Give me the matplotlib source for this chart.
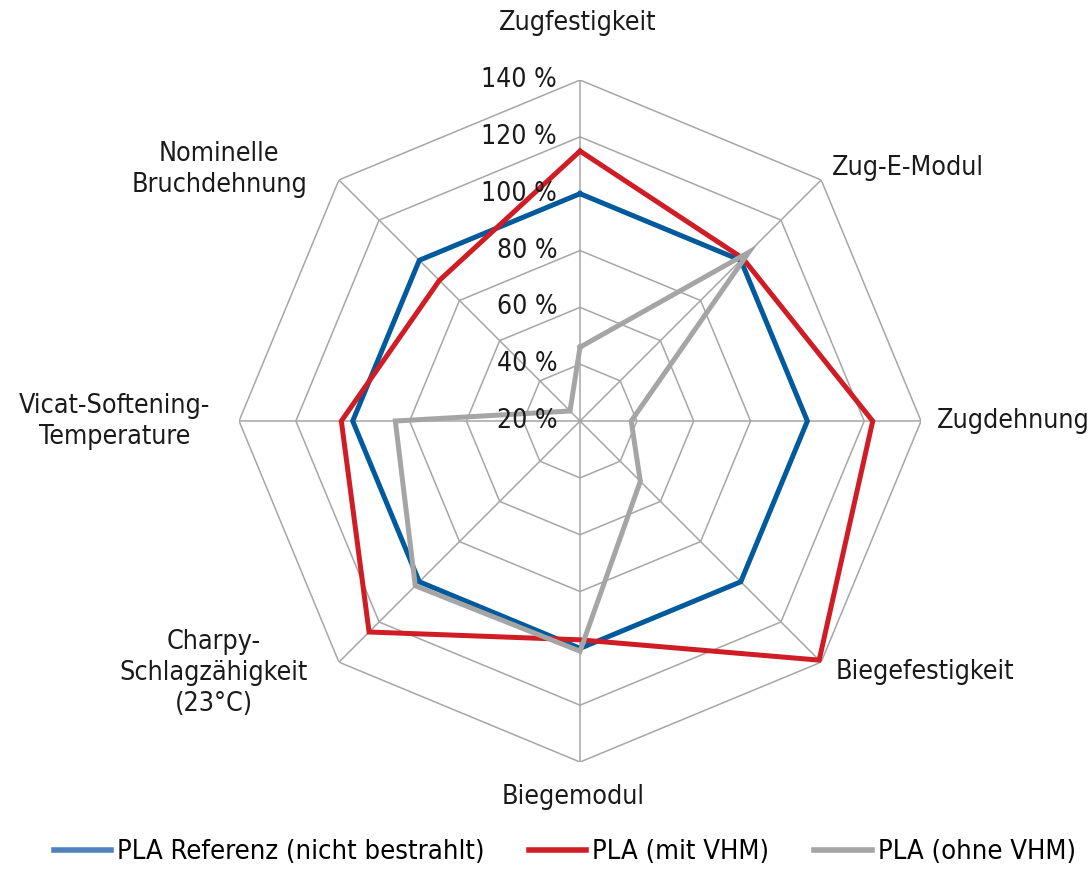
import numpy as np
import matplotlib
matplotlib.use("Agg")
import matplotlib.pyplot as plt
from matplotlib.lines import Line2D

plt.rcParams['font.family'] = ['DejaVu Sans']
plt.rcParams['font.stretch'] = 'condensed'

categories = ['Zugfestigkeit', 'Zug-E-Modul', 'Zugdehnung', 'Biegefestigkeit',
              'Biegemodul', 'Charpy-\nSchlagzähigkeit\n(23°C)',
              'Vicat-Softening-\nTemperature', 'Nominelle\nBruchdehnung']
referenz = [100, 100, 100, 100, 100, 100, 100, 100]
mit_vhm = [115, 101, 123, 139, 97, 125, 104, 90]
ohne_vhm = [46, 104, 38, 50, 101, 102, 85, 25]
ring_values = [20, 40, 60, 80, 100, 120, 140]
series_names = ['PLA Referenz (nicht bestrahlt)', 'PLA (mit VHM)', 'PLA (ohne VHM)']

n = len(categories)
theta = np.linspace(0, 2 * np.pi, n, endpoint=False)
theta_c = np.append(theta, theta[0])

fig = plt.figure(figsize=(10.9, 8.69), dpi=100)
ax = fig.add_axes([0.2193, 0.1231, 0.6257, 0.7848], projection='polar')
ax.set_theta_zero_location('N')
ax.set_theta_direction(-1)
ax.set_ylim(20, 140)
ax.grid(False)
ax.spines['polar'].set_visible(False)
ax.set_xticks([])
ax.set_yticks([])

# octagon grid
grid_c = '#a6a6a6'
for r in ring_values[1:]:
    ax.plot(theta_c, [r] * (n + 1), color=grid_c, lw=1.1, zorder=1)
for t in theta:
    ax.plot([t, t], [20, 140], color=grid_c, lw=1.1, zorder=1)

for r in ring_values:
    ax.annotate(f'{r} %', xy=(0, r), xytext=(-23, 0), textcoords='offset pixels',
                ha='right', va='center', fontsize=19, color='#1a1a1a', zorder=5)

colors = ['#005a9c', '#d01c24', '#a5a5a5']
for vals, c in zip([referenz, mit_vhm, ohne_vhm], colors):
    ax.plot(theta_c, vals + vals[:1], color=c, lw=3.6, zorder=3,
            solid_joinstyle='miter')

# label offsets in pixels from the outer vertex
offsets = [(-2, 57, 'center', 'center'), (11, 12, 'left', 'center'),
           (16, 0, 'left', 'center'), (14, -10, 'left', 'center'),
           (-7, -35, 'center', 'center'), (-31, -11, 'right', 'center'),
           (-29, 0, 'right', 'center'), (-32, 10, 'right', 'center')]
for t, lab, (dx, dy, ha, va) in zip(theta, categories, offsets):
    ax.annotate(lab, xy=(t, 140), xytext=(dx, dy), textcoords='offset pixels',
                ha=ha, va=va, multialignment='center', fontsize=19.3,
                color='#1a1a1a', linespacing=1.25, annotation_clip=False)

legend_colors = ['#4f81bd', '#d01c24', '#a5a5a5']
handles = [Line2D([], [], color=c, lw=4) for c in legend_colors]
fig.legend(handles, series_names, loc='center', bbox_to_anchor=(0.518, 0.019),
           ncol=3, frameon=False, fontsize=19.6, handlelength=2.1,
           handletextpad=0.22, columnspacing=1.65)

fig.savefig('out.png', dpi=100)
